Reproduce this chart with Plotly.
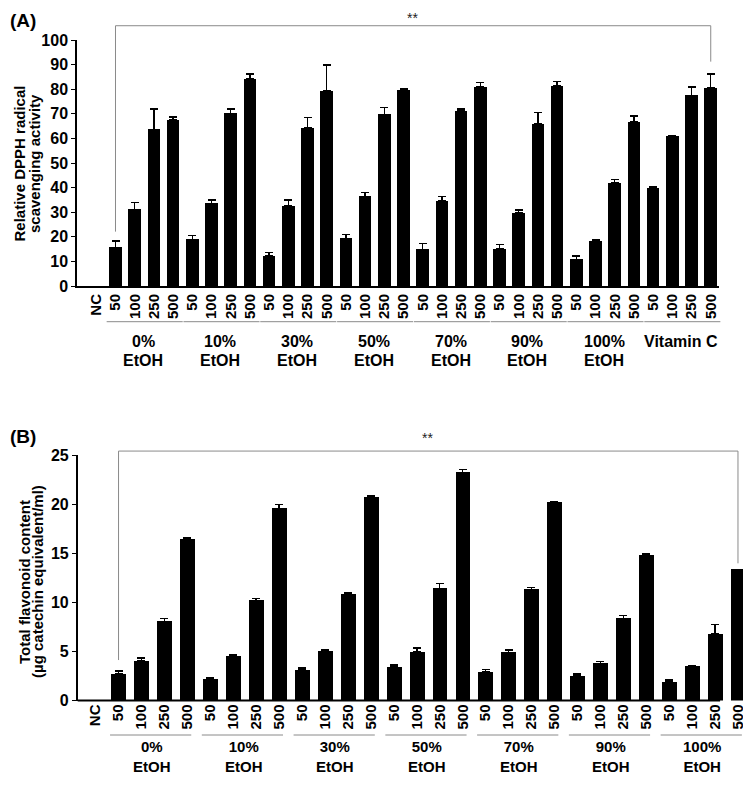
import plotly.graph_objects as go

# The page has the browser's default 8px body margin; the figure is sized so
# that it (plus the margins) fits the 751x785 window exactly.
OFF = 8
W, H = 751 - OFF, 785 - 2 * OFF

# ---------------- data ----------------
dose_labels = ["50", "100", "250", "500"]
group_a_top = ["0%", "10%", "30%", "50%", "70%", "90%", "100%", "Vitamin C"]
group_a_bottom = ["EtOH", "EtOH", "EtOH", "EtOH", "EtOH", "EtOH", "EtOH", ""]
group_b_top = ["0%", "10%", "30%", "50%", "70%", "90%", "100%"]
group_b_bottom = ["EtOH", "EtOH", "EtOH", "EtOH", "EtOH", "EtOH", "EtOH"]

# (A) relative DPPH radical scavenging activity (NC has no bar)
dpph_mean = [15.7, 31.2, 63.7, 67.5,
             19.0, 33.6, 70.2, 84.3,
             12.3, 32.7, 64.4, 79.4,
             19.4, 36.4, 69.8, 79.7,
             14.9, 34.7, 71.1, 80.9,
             15.2, 29.8, 66.0, 81.3,
             10.8, 18.4, 41.9, 66.7,
             39.8, 60.8, 77.5, 80.5]
dpph_err = [2.5, 2.7, 8.3, 1.3,
            1.6, 1.4, 1.8, 1.9,
            1.3, 2.3, 4.0, 10.4,
            1.5, 1.7, 2.8, 0.4,
            2.4, 1.6, 0.9, 1.9,
            1.6, 1.1, 4.5, 1.9,
            1.3, 0.6, 1.3, 2.5,
            0.6, 0.2, 3.4, 5.7]

# (B) total flavonoid content
flav_mean = [2.72, 4.07, 8.07, 16.40,
             2.20, 4.58, 10.20, 19.57,
             3.09, 5.06, 10.88, 20.72,
             3.43, 4.95, 11.42, 23.23,
             2.92, 4.89, 11.32, 20.20,
             2.48, 3.77, 8.37, 14.85,
             1.93, 3.50, 6.80, 13.36]
flav_err = [0.30, 0.27, 0.30, 0.15,
            0.07, 0.07, 0.17, 0.37,
            0.20, 0.07, 0.10, 0.18,
            0.20, 0.38, 0.51, 0.31,
            0.24, 0.27, 0.20, 0.07,
            0.20, 0.20, 0.30, 0.10,
            0.14, 0.06, 0.92, 0.0]

ticks_a = ["NC"] + dose_labels * len(group_a_top)
ticks_b = ["NC"] + dose_labels * len(group_b_top)

# ---------------- layout geometry (page pixels -> paper) ----------------
FONT = "Liberation Sans, Arial, sans-serif"


def px(p):
    return (p - OFF) / W


def py(p):
    return 1 - (p - OFF) / H


XD_A = [px(77), px(719)]
XD_B = [px(77.7), px(746)]
YD_A = [py(286), py(40)]
YD_B = [py(700.5), py(455)]
XR_A = [-1.005, 32.43]
XR_B = [-0.78, 28.35]
YR_A = [0, 100]
YR_B = [0, 25]


def xp(v, dom, rng):
    return dom[0] + (v - rng[0]) / (rng[1] - rng[0]) * (dom[1] - dom[0])


def yp(v, dom, rng):
    return dom[0] + (v - rng[0]) / (rng[1] - rng[0]) * (dom[1] - dom[0])


fig = go.Figure()

xa = list(range(len(ticks_a)))
xb = list(range(len(ticks_b)))

fig.add_trace(go.Bar(
    x=xa, y=[None] + dpph_mean, width=0.66,
    marker=dict(color="black", line=dict(width=0)),
    error_y=dict(type="data", symmetric=False, array=[None] + dpph_err,
                 arrayminus=[None] + [0] * len(dpph_err),
                 color="black", thickness=1.5, width=4),
    xaxis="x", yaxis="y", showlegend=False))

fig.add_trace(go.Bar(
    x=xb, y=[None] + flav_mean, width=0.65,
    marker=dict(color="black", line=dict(width=0)),
    error_y=dict(type="data", symmetric=False, array=[None] + flav_err,
                 arrayminus=[None] + [0] * len(flav_err),
                 color="black", thickness=1.5, width=4),
    xaxis="x2", yaxis="y2", showlegend=False))

tickfont_x = dict(family=FONT, size=15, color="black", weight="bold")
tickfont_y = dict(family=FONT, size=16, color="black", weight="bold")

fig.update_layout(
    width=W, height=H,
    margin=dict(l=0, r=0, t=0, b=0, autoexpand=False),
    paper_bgcolor="white", plot_bgcolor="white",
    bargap=0,
    xaxis=dict(domain=XD_A, range=XR_A, anchor="y", automargin=False,
               tickvals=xa, ticktext=ticks_a, tickangle=-90,
               tickfont=tickfont_x, ticks="", showgrid=False, zeroline=False,
               showline=True, linecolor="black", linewidth=2),
    yaxis=dict(domain=YD_A, range=YR_A, anchor="x", automargin=False,
               tickvals=list(range(0, 101, 10)), tickfont=tickfont_y,
               ticks="outside", ticklen=4, tickwidth=1.2, tickcolor="black",
               showgrid=False, zeroline=False,
               showline=True, linecolor="black", linewidth=1.5),
    xaxis2=dict(domain=XD_B, range=XR_B, anchor="y2", automargin=False,
                tickvals=xb, ticktext=ticks_b, tickangle=-90,
                tickfont=tickfont_x, ticks="", showgrid=False, zeroline=False,
                showline=False),
    yaxis2=dict(domain=YD_B, range=YR_B, anchor="x2", automargin=False,
                tickvals=[0, 5, 10, 15, 20, 25], tickfont=tickfont_y,
                ticks="outside", ticklen=4, tickwidth=1.2, tickcolor="black",
                showgrid=False, zeroline=False,
                showline=True, linecolor="black", linewidth=1.5),
)

shapes = []
ann = []

# x-axis baseline of panel B (ends before the last bar, as in the original)
shapes.append(dict(type="line", xref="paper", yref="paper",
                   x0=XD_B[0], x1=xp(27.22, XD_B, XR_B),
                   y0=YD_B[0], y1=YD_B[0], line=dict(color="black", width=2)))

GRAY = "#8a8a8a"


def bracket(x_left, x_right, y_left, y_right, y_top, star_x, star_pix, star_anchor,
            xd, xr, yd, yr):
    xl = xp(x_left, xd, xr)
    xrr = xp(x_right, xd, xr)
    yt = yp(y_top, yd, yr)
    shapes.append(dict(type="line", xref="paper", yref="paper", x0=xl, x1=xl,
                       y0=yp(y_left, yd, yr), y1=yt, line=dict(color=GRAY, width=1)))
    shapes.append(dict(type="line", xref="paper", yref="paper", x0=xl, x1=xrr,
                       y0=yt, y1=yt, line=dict(color=GRAY, width=1)))
    shapes.append(dict(type="line", xref="paper", yref="paper", x0=xrr, x1=xrr,
                       y0=yp(y_right, yd, yr), y1=yt, line=dict(color=GRAY, width=1)))
    ann.append(dict(text="**", xref="paper", yref="paper",
                    x=xp(star_x, xd, xr), y=py(star_pix),
                    xanchor="center", yanchor=star_anchor, showarrow=False,
                    font=dict(family=FONT, size=14, color="#222")))


# the "**" of panel A sits at the very top edge of the figure
bracket(1, 32, 22.1, 91.2, 105.8, 16.48, OFF, "top", XD_A, XR_A, YD_A, YR_A)
bracket(1, 28, 4.12, 13.97, 25.4, 14.46, 438, "middle", XD_B, XR_B, YD_B, YR_B)


def group_lines(n, xd, xr, line_pix, lpad, rpad):
    for g in range(n):
        s = 1 + 4 * g
        e = s + 3
        shapes.append(dict(type="line", xref="paper", yref="paper",
                           x0=xp(s - lpad, xd, xr), x1=xp(e + rpad, xd, xr),
                           y0=py(line_pix), y1=py(line_pix),
                           line=dict(color=GRAY, width=1)))


def gx(g, xd, xr):
    s = 1 + 4 * g
    return xp(s + 1.5 - 0.05, xd, xr)


# panel A group labels: two separate rows
group_lines(len(group_a_top), XD_A, XR_A, 321.7, 0.46, 0.5)
for g, (t, b) in enumerate(zip(group_a_top, group_a_bottom)):
    ann.append(dict(text=t, xref="paper", yref="paper", x=gx(g, XD_A, XR_A), y=py(341.5),
                    xanchor="center", yanchor="middle", showarrow=False,
                    font=dict(family=FONT, size=16, color="black", weight="bold")))
    if b:
        ann.append(dict(text=b, xref="paper", yref="paper", x=gx(g, XD_A, XR_A), y=py(360),
                        xanchor="center", yanchor="middle", showarrow=False,
                        font=dict(family=FONT, size=16, color="black", weight="bold")))

# panel B group labels: one two-line label resting on the figure's bottom edge
group_lines(len(group_b_top), XD_B, XR_B, 735, 0.37, 0.17)
for g, (t, b) in enumerate(zip(group_b_top, group_b_bottom)):
    ann.append(dict(text=t + "<br>" + b, xref="paper", yref="paper",
                    x=gx(g, XD_B, XR_B), y=py(785 - OFF),
                    xanchor="center", yanchor="bottom", showarrow=False,
                    font=dict(family=FONT, size=15, color="black", weight="bold")))


def ytitle(lines, xs, ycen, size):
    for txt, x in zip(lines, xs):
        ann.append(dict(text=txt, xref="paper", yref="paper", x=px(x), y=py(ycen),
                        xanchor="center", yanchor="middle", textangle=-90,
                        showarrow=False,
                        font=dict(family=FONT, size=size, color="black", weight="bold")))


ytitle(["Relative DPPH radical", "scavenging activity"], [18.5, 34], 164, 15)
ytitle(["Total flavonoid content", "(\u00b5g catechin equivalent/ml)"], [24, 37], 582, 15)

ann.append(dict(text="(A)", xref="paper", yref="paper", x=0, y=py(OFF),
                xanchor="left", yanchor="top", showarrow=False,
                font=dict(family=FONT, size=19, color="black", weight="bold")))
ann.append(dict(text="(B)", xref="paper", yref="paper", x=0, y=py(437),
                xanchor="left", yanchor="middle", showarrow=False,
                font=dict(family=FONT, size=19, color="black", weight="bold")))

fig.update_layout(shapes=shapes, annotations=ann)

fig.write_html("out.html")
